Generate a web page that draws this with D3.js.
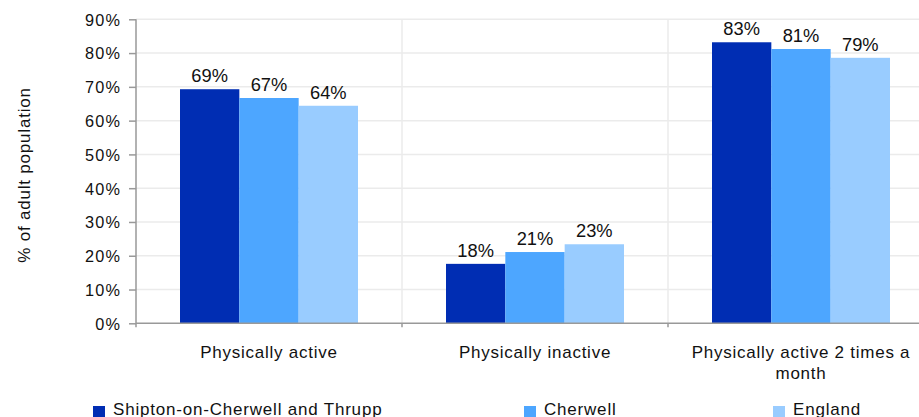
<!DOCTYPE html>
<html><head><meta charset="utf-8">
<script src="https://cdn.jsdelivr.net/npm/d3@7"></script>
<style>body{margin:0;background:#fff;overflow:hidden}svg{display:block;font-family:"Liberation Sans",Arial,sans-serif}</style>
</head><body><svg id="c" width="919" height="417"></svg>
<script>
const categories = ["Physically active", "Physically inactive", "Physically active 2 times a month"];
const series = ["Shipton-on-Cherwell and Thrupp", "Cherwell", "England"];
const shipton = [69.3, 17.6, 83.2];
const cherwell = [66.7, 21.1, 81.2];
const england = [64.4, 23.4, 78.6];
const yTicks = [0, 10, 20, 30, 40, 50, 60, 70, 80, 90];
const colors = ["#002db3", "#4da6ff", "#99ccff"];
const values = [shipton, cherwell, england];

const svg = d3.select("#c");
const x0 = d3.scaleBand().domain(categories).range([136, 934]).paddingInner(0).paddingOuter(0);
const x1 = d3.scaleBand().domain(series).range([44, 266 - 44]);
const y = d3.scaleLinear().domain([0, 90]).range([323.3, 19.3]);

// horizontal gridlines
svg.append("g").selectAll("line").data(yTicks.slice(1)).join("line")
  .attr("x1", 136).attr("x2", 919).attr("y1", d => y(d)).attr("y2", d => y(d))
  .attr("stroke", "#ebebeb").attr("stroke-width", 1.5);
// vertical gridlines
svg.append("g").selectAll("line").data(categories.slice(1)).join("line")
  .attr("x1", d => x0(d)).attr("x2", d => x0(d)).attr("y1", y(90)).attr("y2", y(0))
  .attr("stroke", "#ebebeb").attr("stroke-width", 1.5);

// bars
const g = svg.append("g");
categories.forEach((c, ci) => {
  series.forEach((s, si) => {
    const v = values[si][ci];
    g.append("rect").attr("x", x0(c) + x1(s)).attr("width", x1.bandwidth())
      .attr("y", y(v)).attr("height", y(0) - y(v)).attr("fill", colors[si]);
    g.append("text").attr("x", x0(c) + x1(s) + x1.bandwidth() / 2).attr("y", y(v) - 7)
      .attr("text-anchor", "middle").attr("font-size", 18.3).attr("fill", "#111")
      .text(Math.round(v) + "%");
  });
});

// y axis
const ya = svg.append("g").attr("transform", "translate(136,0)")
  .call(d3.axisLeft(y).tickValues(yTicks).tickFormat(d => d + "%").tickSize(7).tickPadding(8));
ya.select(".domain").attr("stroke", "#999").attr("stroke-width", 1.5).attr("d", "M0," + y(90) + "V" + (y(0) + 4));
ya.selectAll(".tick line").attr("stroke", "#999").attr("stroke-width", 1.5);
ya.selectAll("text").attr("font-size", 16.3).attr("letter-spacing", 1.1).attr("fill", "#111")
  .attr("font-family", "Liberation Sans, Arial, sans-serif").attr("dy", "0.36em");

// x axis
const xa = svg.append("g").attr("transform", "translate(0," + y(0) + ")");
xa.append("line").attr("x1", 136).attr("x2", 919).attr("stroke", "#999").attr("stroke-width", 1.5);
xa.selectAll("line.t").data(categories.slice(1)).join("line").attr("class", "t")
  .attr("x1", d => x0(d)).attr("x2", d => x0(d)).attr("y1", 0).attr("y2", 4)
  .attr("stroke", "#999").attr("stroke-width", 1.5);
const catLines = [["Physically active"], ["Physically inactive"], ["Physically active 2 times a", "month"]];
categories.forEach((c, i) => {
  const t = svg.append("text").attr("x", x0(c) + x0.bandwidth() / 2).attr("y", 358)
    .attr("text-anchor", "middle").attr("font-size", 17).attr("letter-spacing", 0.75).attr("fill", "#111");
  catLines[i].forEach((l, j) => t.append("tspan").attr("x", x0(c) + x0.bandwidth() / 2).attr("dy", j ? 21 : 0).text(l));
});

// y title
svg.append("text").attr("transform", "translate(30,175) rotate(-90)").attr("text-anchor", "middle")
  .attr("font-size", 17).attr("letter-spacing", 0.8).attr("fill", "#111").text("% of adult population");

// legend
const lx = [93, 524, 773];
series.forEach((s, i) => {
  svg.append("rect").attr("x", lx[i]).attr("y", 406).attr("width", 12).attr("height", 12).attr("fill", colors[i]);
  svg.append("text").attr("x", lx[i] + 20).attr("y", 415).attr("font-size", 17).attr("letter-spacing", 0.8).attr("fill", "#111").text(s);
});
</script></body></html>
